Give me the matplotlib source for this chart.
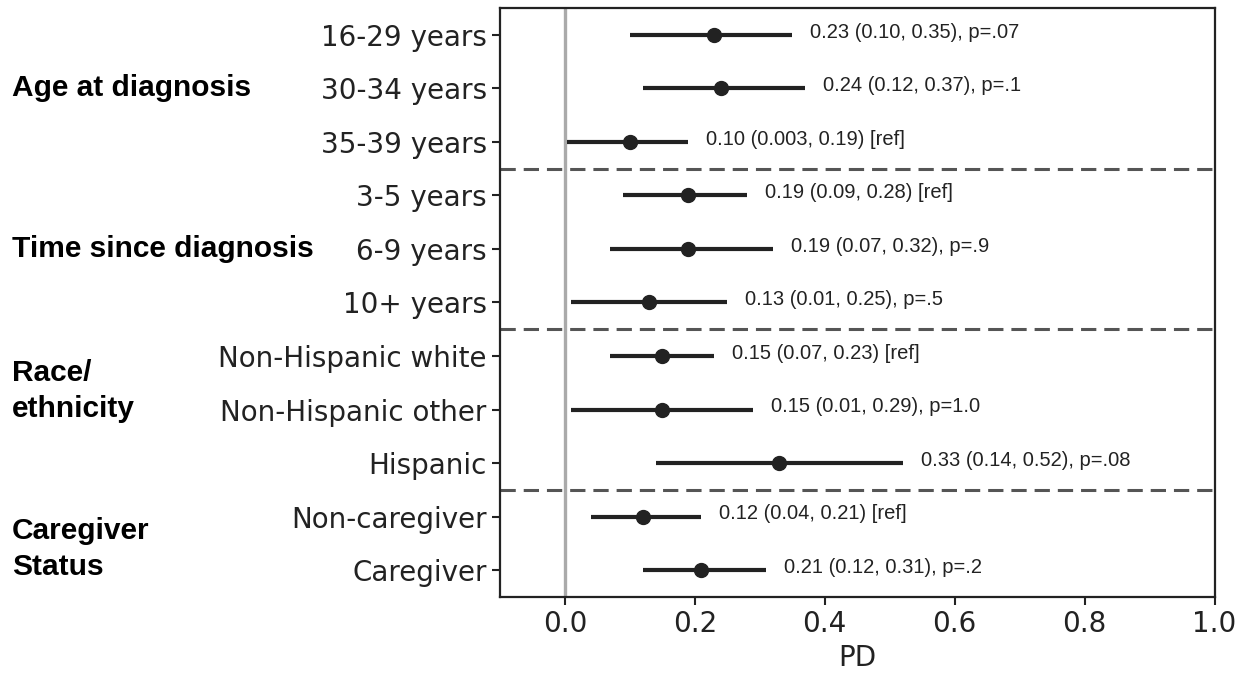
import matplotlib
matplotlib.use("Agg")
import matplotlib.pyplot as plt
import matplotlib.transforms as mtransforms
import numpy as np

labels = ["16-29 years", "30-34 years", "35-39 years",
          "3-5 years", "6-9 years", "10+ years",
          "Non-Hispanic white", "Non-Hispanic other", "Hispanic",
          "Non-caregiver", "Caregiver"]
est = [0.23, 0.24, 0.10, 0.19, 0.19, 0.13, 0.15, 0.15, 0.33, 0.12, 0.21]
lo = [0.10, 0.12, 0.003, 0.09, 0.07, 0.01, 0.07, 0.01, 0.14, 0.04, 0.12]
hi = [0.35, 0.37, 0.19, 0.28, 0.32, 0.25, 0.23, 0.29, 0.52, 0.21, 0.31]
notes = ["0.23 (0.10, 0.35), p=.07", "0.24 (0.12, 0.37), p=.1",
         "0.10 (0.003, 0.19) [ref]", "0.19 (0.09, 0.28) [ref]",
         "0.19 (0.07, 0.32), p=.9", "0.13 (0.01, 0.25), p=.5",
         "0.15 (0.07, 0.23) [ref]", "0.15 (0.01, 0.29), p=1.0",
         "0.33 (0.14, 0.52), p=.08", "0.12 (0.04, 0.21) [ref]",
         "0.21 (0.12, 0.31), p=.2"]
groups = ["Age at diagnosis", "Time since diagnosis", "Race/\nethnicity", "Caregiver\nStatus"]
group_pos = [1, 4, 6.66, 9.6]
breaks = [2.5, 5.5, 8.5]

plt.rcParams['font.family'] = ['DejaVu Sans']

fig = plt.figure(figsize=(12.56, 6.79), dpi=100)
ax = fig.add_axes([0.398, 0.121, 0.569, 0.867])

y = np.arange(len(labels))
ax.axvline(0, color="#aaaaaa", lw=2.4, zorder=1)
for b in breaks:
    ax.axhline(b, color="#555555", lw=2.2, linestyle=(0, (5, 2.6)), zorder=1)

for i in range(len(labels)):
    ax.plot([lo[i], hi[i]], [y[i], y[i]], color="#222222", lw=3, solid_capstyle="butt", zorder=2)
    ax.plot(est[i], y[i], "o", color="#222222", ms=10, zorder=3)
    ax.text(hi[i] + 0.028, y[i] - 0.05, notes[i], fontsize=14.5,
            family="Liberation Sans", color="#222222", va="center", ha="left")

ax.set_xlim(-0.1, 1.0)
ax.set_ylim(10.5, -0.5)
ax.set_yticks(y)
ax.set_yticklabels(labels)
ax.set_xticks([0.0, 0.2, 0.4, 0.6, 0.8, 1.0])
ax.tick_params(labelsize=20, width=1.5, length=6, color="#222222", labelcolor="#222222")
ax.set_xlabel("PD", fontsize=20, color="#222222")
for s in ax.spines.values():
    s.set_linewidth(1.6)
    s.set_color("#222222")

# group labels: x in pixels from the figure's left edge, y in data units
trans = mtransforms.blended_transform_factory(mtransforms.IdentityTransform(), ax.transData)
for g, p in zip(groups, group_pos):
    ax.text(12, p, g, transform=trans, fontsize=21.5, fontweight="bold",
            family="Liberation Sans", va="center", ha="left", linespacing=1.35)

fig.savefig("out.png", dpi=100)
